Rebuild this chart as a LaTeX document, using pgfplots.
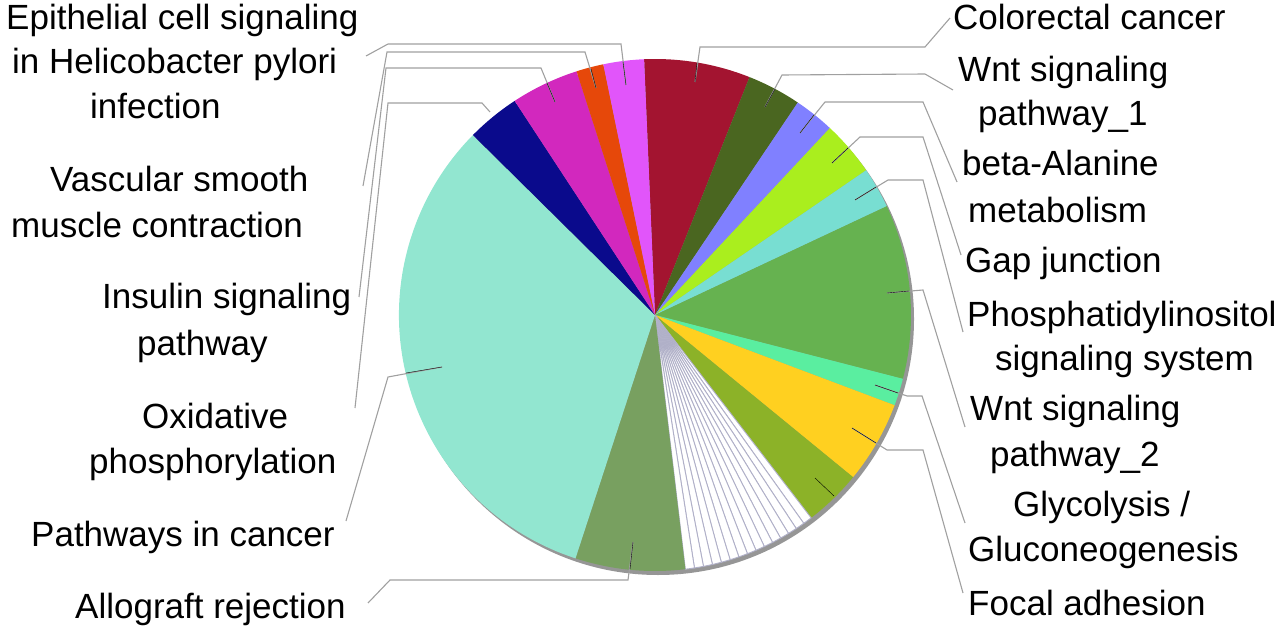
\documentclass[border=0pt]{standalone}
\usepackage{pgfplots}
\usepackage{pgfplotstable}
\usepackage{fontspec}
\setmainfont{Liberation Sans}
\pgfplotsset{compat=1.18}

\definecolor{cRed}{RGB}{163,20,48}
\definecolor{cDkOlive}{RGB}{74,102,32}
\definecolor{cPeri}{RGB}{128,128,255}
\definecolor{cYelGreen}{RGB}{170,238,30}
\definecolor{cTeal}{RGB}{120,222,210}
\definecolor{cGreen}{RGB}{102,178,80}
\definecolor{cSpring}{RGB}{90,238,160}
\definecolor{cGold}{RGB}{255,208,32}
\definecolor{cOlive}{RGB}{140,178,40}
\definecolor{cAllo}{RGB}{120,160,96}
\definecolor{cCyan}{RGB}{146,230,208}
\definecolor{cNavy}{RGB}{10,10,140}
\definecolor{cMagenta}{RGB}{210,40,190}
\definecolor{cOrange}{RGB}{230,72,10}
\definecolor{cViolet}{RGB}{225,85,250}
\definecolor{cEdge}{RGB}{176,176,200}
\definecolor{cShadow}{RGB}{150,150,150}
\definecolor{cLeader}{RGB}{160,160,160}

\tikzset{
  leader/.style={cLeader, line width=1.1pt},
  tick/.style={black, opacity=0.45, line width=1.2pt},
  lbl/.style={anchor=base west, inner sep=0pt, font=\fontsize{35}{41}\selectfont},
}

% slice shares in percent, clockwise from the top
\pgfplotstableread{
slice        value fillc     edgec
colorectal   6.70  cRed      none
wnt1         3.40  cDkOlive  none
betaala      2.55  cPeri     none
gapjunc      3.47  cYelGreen none
phosph       2.58  cTeal     none
wnt2         11.00 cGreen    none
glycol       1.72  cSpring   none
focal        5.19  cGold     none
other        3.64  cOlive    none
w01          0.57  white     cEdge
w02          0.57  white     cEdge
w03          0.57  white     cEdge
w04          0.57  white     cEdge
w05          0.57  white     cEdge
w06          0.57  white     cEdge
w07          0.57  white     cEdge
w08          0.57  white     cEdge
w09          0.57  white     cEdge
w10          0.57  white     cEdge
w11          0.57  white     cEdge
w12          0.57  white     cEdge
w13          0.57  white     cEdge
w14          0.57  white     cEdge
w15          0.57  white     cEdge
allograft    6.92  cAllo     none
pathcancer   32.39 cCyan     none
oxphos       3.36  cNavy     none
insulin      4.28  cMagenta  none
vascular     1.72  cOrange   none
epithelial   2.56  cViolet   none
}\slices

\def\cx{655}
\def\cy{315}
\def\rad{256}
\def\start{-2.44}

\begin{document}
\begin{tikzpicture}
\begin{axis}[
    x=1pt, y=1pt,
    xmin=0, xmax=1280, ymin=0, ymax=631,
    y dir=reverse,
    hide axis, clip=false,
]
% shadow on the lower right
\fill[cShadow] (axis cs:\cx+3,\cy+4) circle[radius=\rad pt];

\pgfplotstablegetrowsof{\slices}
\pgfmathtruncatemacro\last{\pgfplotsretval-1}
\def\total{0}
\pgfplotsforeachungrouped \i in {0,...,\last}{%
  \pgfplotstablegetelem{\i}{value}\of\slices
  \pgfmathsetmacro\total{\total+\pgfplotsretval}%
}
\def\cum{0}
\pgfplotsforeachungrouped \i in {0,...,\last}{%
  \pgfplotstablegetelem{\i}{value}\of\slices \let\v\pgfplotsretval
  \pgfplotstablegetelem{\i}{fillc}\of\slices \let\fc\pgfplotsretval
  \pgfplotstablegetelem{\i}{edgec}\of\slices \let\ec\pgfplotsretval
  \pgfmathsetmacro\ta{\start+3.6*(\cum/\total)*100}%
  \pgfmathsetmacro\tb{\start+3.6*((\cum+\v)/\total)*100}%
  \pgfmathsetmacro\px{\cx+\rad*sin(\ta)}%
  \pgfmathsetmacro\py{\cy-\rad*cos(\ta)}%
  \pgfmathsetmacro\sa{90-\ta}%
  \pgfmathsetmacro\ea{90-\tb}%
  \edef\wedge{\noexpand\filldraw[fill=\fc, draw=\ec, line width=0.9pt]
    (axis cs:\cx,\cy) -- (axis cs:\px,\py)
    arc[start angle=\sa, end angle=\ea, radius=\rad pt] -- cycle;}%
  \wedge
  \pgfmathsetmacro\cum{\cum+\v}%
}

% leader lines, left
\addplot[leader] coordinates {(626,85) (621,44) (388,44) (366,56)};
\addplot[leader] coordinates {(596,88) (585,52) (387,52) (363,186)};
\addplot[leader] coordinates {(555,102) (541,68) (386,68) (359,297)};
\addplot[leader] coordinates {(490,112) (482,103) (388,103) (355,408)};
\addplot[leader] coordinates {(442,367) (388,377) (346,521)};
\addplot[leader] coordinates {(633,542) (628,580) (390,580) (368,603)};
% leader lines, right
\addplot[leader] coordinates {(695,82) (700,47) (925,47) (950,18)};
\addplot[leader] coordinates {(765,107) (782,75) (925,74) (953,90)};
\addplot[leader] coordinates {(800,133) (825,102) (923,102) (957,182)};
\addplot[leader] coordinates {(832,163) (860,137) (923,137) (961,255)};
\addplot[leader] coordinates {(855,200) (888,180) (923,180) (963,332)};
\addplot[leader] coordinates {(887,293) (923,290) (965,427)};
\addplot[leader] coordinates {(875,385) (907,396) (922,396) (965,523)};
\addplot[leader] coordinates {(852,428) (887,450) (923,450) (963,593)};
% darker ticks inside the slices
\addplot[tick] coordinates {(626,85) (623,62)};
\addplot[tick] coordinates {(596,88) (591,69)};
\addplot[tick] coordinates {(555,102) (547,83)};
\addplot[tick] coordinates {(442,367) (406,373)};
\addplot[tick] coordinates {(633,542) (630,569)};
\addplot[tick] coordinates {(695,82) (697,63)};
\addplot[tick] coordinates {(765,107) (775,89)};
\addplot[tick] coordinates {(800,133) (814,115)};
\addplot[tick] coordinates {(832,163) (848,148)};
\addplot[tick] coordinates {(855,200) (876,187)};
\addplot[tick] coordinates {(887,293) (909,291)};
\addplot[tick] coordinates {(875,385) (898,393)};
\addplot[tick] coordinates {(852,428) (876,443)};
\addplot[tick] coordinates {(815,478) (834,496)};

% labels, left
\node[lbl] at (axis cs:6,29.3) {Epithelial cell signaling};
\node[lbl] at (axis cs:12,73.3) {in Helicobacter pylori};
\node[lbl] at (axis cs:90,119) {infection};
\node[lbl] at (axis cs:50,192) {Vascular smooth};
\node[lbl] at (axis cs:11,237) {muscle contraction};
\node[lbl] at (axis cs:102,308) {Insulin signaling};
\node[lbl] at (axis cs:137,355) {pathway};
\node[lbl] at (axis cs:142,428) {Oxidative};
\node[lbl] at (axis cs:89,473) {phosphorylation};
\node[lbl] at (axis cs:31,546) {Pathways in cancer};
\node[lbl] at (axis cs:75,618) {Allograft rejection};
% labels, right
\node[lbl] at (axis cs:953,29.3) {Colorectal cancer};
\node[lbl] at (axis cs:958,81.7) {Wnt signaling};
\node[lbl] at (axis cs:978,126) {pathway\_1};
\node[lbl] at (axis cs:962,176) {beta-Alanine};
\node[lbl] at (axis cs:968,222.7) {metabolism};
\node[lbl] at (axis cs:965,272.7) {Gap junction};
\node[lbl] at (axis cs:967,326.7) {Phosphatidylinositol};
\node[lbl] at (axis cs:995,370) {signaling system};
\node[lbl] at (axis cs:970,420) {Wnt signaling};
\node[lbl] at (axis cs:990,466.7) {pathway\_2};
\node[lbl] at (axis cs:1013,516.7) {Glycolysis /};
\node[lbl] at (axis cs:968,561.7) {Gluconeogenesis};
\node[lbl] at (axis cs:968,615) {Focal adhesion};
\end{axis}
\pgfresetboundingbox
\path (0,0) rectangle (1280pt,631pt);
\end{tikzpicture}
\end{document}
